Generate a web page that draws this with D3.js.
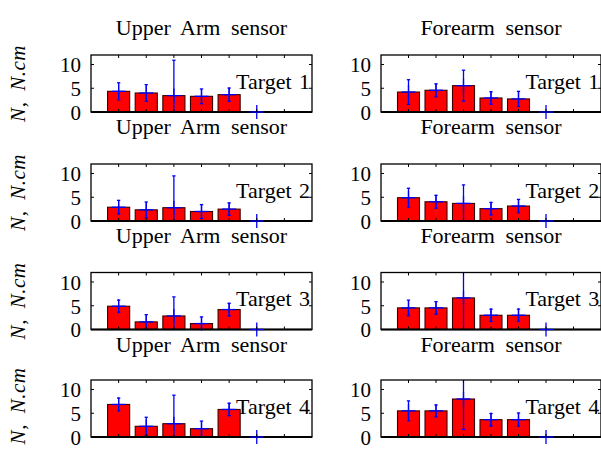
<!DOCTYPE html>
<html>
<head>
<meta charset="utf-8">
<script src="https://cdn.jsdelivr.net/npm/d3@7"></script>
<style>
  html, body { margin: 0; padding: 0; background: #fff; }
  svg { display: block; }
  text { font-family: "Liberation Serif", "Times New Roman", serif; fill: #000; }
</style>
</head>
<body>
<svg id="chart" width="601" height="450"></svg>
<script>
// ---- data ----
const categories = [1, 2, 3, 4, 5, 6];
const targetLabels = ["Target 1", "Target 2", "Target 3", "Target 4"];
const sensorTitles = ["Upper Arm sensor", "Forearm sensor"];
const yLabel = "N, N.cm";
const yTicks = [0, 5, 10];
const xTicks = [1, 2, 3, 4, 5, 6, 7];

const upperArmMeans = [
  [4.35, 4.0, 3.45, 3.3, 3.65, 0],
  [2.9, 2.35, 2.8, 2.0, 2.5, 0],
  [4.9, 1.6, 2.85, 1.25, 4.2, 0],
  [6.85, 2.25, 2.8, 1.75, 5.8, 0]
];
const upperArmErrors = [
  [1.8, 1.75, 7.45, 1.55, 1.4, 0],
  [1.45, 1.65, 6.7, 1.45, 1.3, 0],
  [1.3, 1.55, 4.0, 1.4, 1.3, 0],
  [1.35, 1.9, 6.0, 1.6, 1.3, 0]
];
const forearmMeans = [
  [4.2, 4.57, 5.55, 2.95, 2.75, 0],
  [4.9, 4.05, 3.7, 2.6, 3.15, 0],
  [4.55, 4.55, 6.65, 3.0, 3.0, 0],
  [5.5, 5.5, 8.0, 3.65, 3.65, 0]
];
const forearmErrors = [
  [2.6, 1.35, 3.25, 1.3, 1.6, 0],
  [2.0, 1.35, 3.9, 1.3, 1.4, 0],
  [1.65, 1.3, 6.8, 1.3, 1.3, 0],
  [2.1, 1.25, 6.4, 1.3, 1.4, 0]
];

// ---- layout ----
const svg = d3.select("#chart");
const colX = [[91, 312], [381, 601]];
const rowTop = [55, 164, 272.5, 380];
const boxH = 57;
const barWidth = 0.8;
const tickLen = 3;

const seriesMeans = [upperArmMeans, forearmMeans];
const seriesErrors = [upperArmErrors, forearmErrors];

let clipId = 0;
for (let r = 0; r < 4; r++) {
  for (let c = 0; c < 2; c++) {
    const [x0, x1] = colX[c];
    const top = rowTop[r], bottom = top + boxH;
    const x = d3.scaleLinear().domain([0, 8]).range([x0, x1]);
    const y = d3.scaleLinear().domain([0, 12]).range([bottom, top]);
    const g = svg.append("g");
    const id = "clip" + (clipId++);
    g.append("clipPath").attr("id", id).append("rect")
      .attr("x", x0).attr("y", top).attr("width", x1 - x0).attr("height", boxH);

    const means = seriesMeans[c][r];
    const errs = seriesErrors[c][r];
    const data = categories.map((k, i) => ({ k, m: means[i], e: errs[i] }));

    // bars
    g.append("g").selectAll("rect").data(data.filter(d => d.m > 0)).join("rect")
      .attr("x", d => x(d.k - barWidth / 2))
      .attr("width", d => x(d.k + barWidth / 2) - x(d.k - barWidth / 2))
      .attr("y", d => y(d.m))
      .attr("height", d => y(0) - y(d.m))
      .attr("fill", "#ff0000")
      .attr("stroke", "#3a0000")
      .attr("stroke-width", 1.1);

    // error bars (clipped)
    const eg = g.append("g").attr("clip-path", `url(#${id})`)
      .attr("stroke", "#0000ff").attr("stroke-width", 1.3).attr("fill", "none");
    eg.selectAll("line.v").data(data.filter(d => d.e > 0)).join("line")
      .attr("x1", d => x(d.k)).attr("x2", d => x(d.k))
      .attr("y1", d => y(d.m - d.e)).attr("y2", d => y(d.m + d.e));
    const capW = 0.06;
    ["lo", "hi"].forEach(side => {
      eg.selectAll("line." + side).data(data.filter(d => d.e > 0)).join("line")
        .attr("x1", d => x(d.k - capW)).attr("x2", d => x(d.k + capW))
        .attr("y1", d => y(side === "lo" ? d.m - d.e : d.m + d.e))
        .attr("y2", d => y(side === "lo" ? d.m - d.e : d.m + d.e));
    });

    // box + baseline
    g.append("rect").attr("x", x0).attr("y", top).attr("width", x1 - x0).attr("height", boxH)
      .attr("fill", "none").attr("stroke", "#000").attr("stroke-width", 1.3);
    g.append("line").attr("x1", x0).attr("x2", x1).attr("y1", y(0)).attr("y2", y(0))
      .attr("stroke", "#000").attr("stroke-width", 2);

    // '+' markers at means (not clipped)
    const mk = 7;
    const pg = g.append("g").attr("stroke", "#0000ff").attr("stroke-width", 1.3);
    pg.selectAll("line.h").data(data).join("line")
      .attr("x1", d => x(d.k) - mk).attr("x2", d => x(d.k) + mk)
      .attr("y1", d => y(d.m)).attr("y2", d => y(d.m));
    pg.selectAll("line.pv").data(data).join("line")
      .attr("x1", d => x(d.k)).attr("x2", d => x(d.k))
      .attr("y1", d => y(d.m) - mk).attr("y2", d => y(d.m) + mk);

    // ticks (inward, all four sides)
    const tg = g.append("g").attr("stroke", "#000").attr("stroke-width", 1);
    xTicks.forEach(t => {
      tg.append("line").attr("x1", x(t)).attr("x2", x(t)).attr("y1", top).attr("y2", top + tickLen);
      tg.append("line").attr("x1", x(t)).attr("x2", x(t)).attr("y1", bottom).attr("y2", bottom - tickLen);
    });
    yTicks.forEach(t => {
      tg.append("line").attr("x1", x0).attr("x2", x0 + tickLen).attr("y1", y(t)).attr("y2", y(t));
      tg.append("line").attr("x1", x1).attr("x2", x1 - tickLen).attr("y1", y(t)).attr("y2", y(t));
    });

    // y tick labels via axis
    const ax = g.append("g").attr("transform", `translate(${x0},0)`)
      .call(d3.axisLeft(y).tickValues(yTicks).tickSize(0).tickPadding(10).tickFormat(d3.format("d")));
    ax.select(".domain").remove();
    ax.selectAll("text").style("font-size", "21px").attr("dy", "0.35em")
      .style("font-family", "'Liberation Serif', serif");

    // target label
    g.append("text").attr("x", x(5.25)).attr("y", y(4.9))
      .style("font-size", "22px").style("word-spacing", "2px")
      .text(targetLabels[r]);

    // y label
    if (c === 0) {
      svg.append("text")
        .attr("transform", `translate(25,${Math.min((top + bottom) / 2, 406)}) rotate(-90)`)
        .attr("text-anchor", "middle")
        .style("font-size", "21px").style("font-style", "italic")
        .style("word-spacing", "5px").style("letter-spacing", "0.5px")
        .text(yLabel);
    }

    // titles: above first row, and below rows 1-3
    const cx = (x0 + x1) / 2;
    if (r === 0) {
      svg.append("text").attr("x", cx).attr("y", top - 20)
        .attr("text-anchor", "middle").style("font-size", "22px").style("word-spacing", "5px")
        .text(sensorTitles[c]);
    }
    if (r < 3) {
      svg.append("text").attr("x", cx).attr("y", bottom + 22)
        .attr("text-anchor", "middle").style("font-size", "22px").style("word-spacing", "5px")
        .text(sensorTitles[c]);
    }
  }
}
</script>
</body>
</html>
